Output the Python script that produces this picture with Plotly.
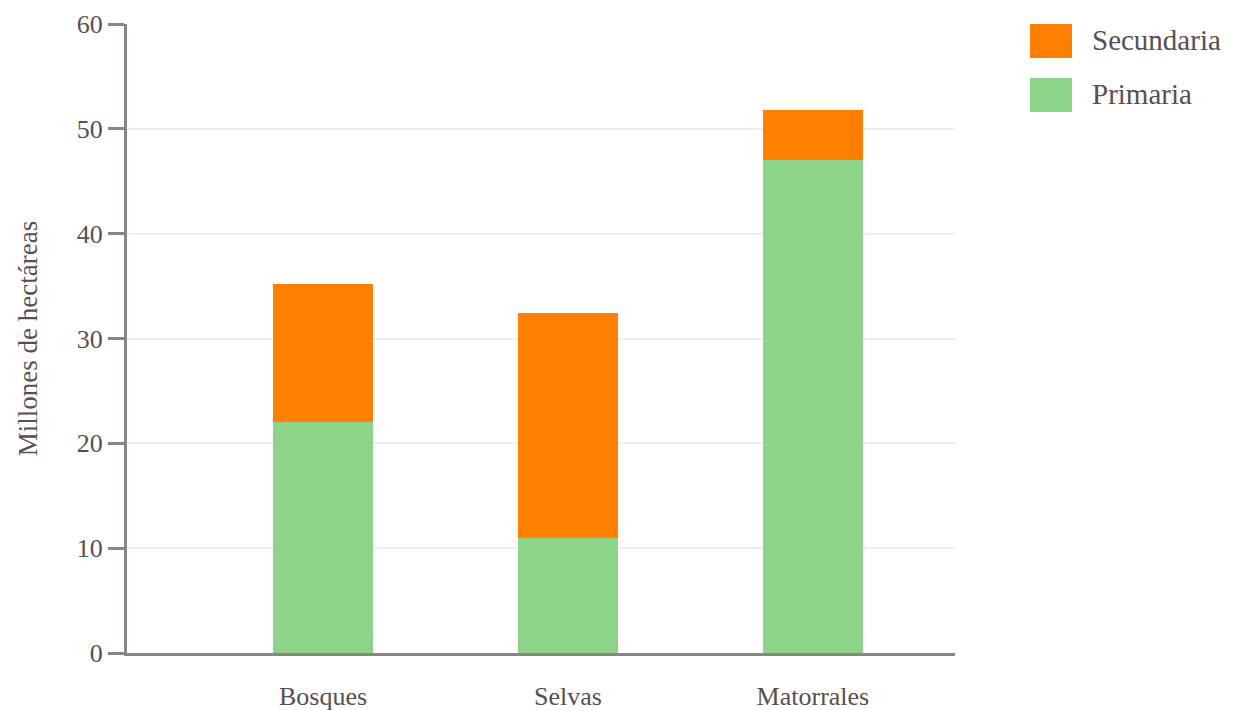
import plotly.graph_objects as go

categories = ["Bosques", "Selvas", "Matorrales"]
series_names = ["Primaria", "Secundaria"]
primaria = [22.0, 11.0, 47.0]
secundaria = [13.2, 21.4, 4.8]
y_ticks = [0, 10, 20, 30, 40, 50, 60]
y_title = "Millones de hectáreas"

colors = {"Primaria": "#8DD48A", "Secundaria": "#FF8000"}
FONT = "Liberation Serif"
TXT = "#5a4e50"
AX = "#8a8486"

fig = go.Figure()
for name, vals in zip(series_names, [primaria, secundaria]):
    fig.add_trace(go.Bar(x=categories, y=vals, name=name, width=0.41,
                         marker=dict(color=colors[name], line=dict(width=0)),
                         showlegend=False))

# custom legend (big swatches), top item = Secundaria
legend_items = list(reversed(series_names))
for i, name in enumerate(legend_items):
    top = 1.0 - i * 0.0858
    fig.add_shape(type="rect", xref="paper", yref="paper",
                  x0=1.0906, x1=1.1413, y0=top - 0.054, y1=top,
                  fillcolor=colors[name], line=dict(width=0))
    fig.add_annotation(xref="paper", yref="paper", x=1.163, y=top - 0.025,
                       text=name, showarrow=False, xanchor="left", yanchor="middle",
                       font=dict(family=FONT, size=29, color=TXT))

fig.update_layout(
    barmode="stack",
    width=1233, height=710,
    margin=dict(l=127, r=278, t=24, b=57),
    paper_bgcolor="white", plot_bgcolor="white",
    font=dict(family=FONT, size=25, color=TXT),
)
fig.update_xaxes(range=[-0.8, 2.58], showline=True, linecolor=AX, linewidth=3,
                 ticks="", showgrid=False, ticklabelstandoff=18, automargin=False,
                 tickfont=dict(family=FONT, size=26, color=TXT))
fig.update_yaxes(range=[0, 60], tickvals=y_ticks, showline=True, linecolor=AX,
                 linewidth=3, ticks="outside", ticklen=16, tickwidth=3, tickcolor=AX,
                 showgrid=True, gridcolor="#efefef", gridwidth=2, zeroline=False,
                 automargin=False,
                 tickfont=dict(family=FONT, size=26, color=TXT),
                 title=dict(text=y_title, standoff=32,
                            font=dict(family=FONT, size=27, color=TXT)))

fig.write_html("out.html", config={"displayModeBar": False},
               post_script="document.body.style.margin='0';document.body.style.overflow='hidden';")
